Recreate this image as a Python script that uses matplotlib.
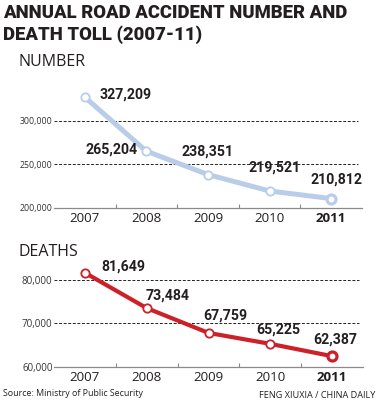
import matplotlib
matplotlib.use("Agg")
import matplotlib.pyplot as plt

years = ["2007", "2008", "2009", "2010", "2011"]
accidents = [327209, 265204, 238351, 219521, 210812]
deaths = [81649, 73484, 67759, 65225, 62387]
acc_ticks = [200000, 250000, 300000]
death_ticks = [60000, 70000, 80000]

W, H = 379, 408
fig = plt.figure(figsize=(W / 100, H / 100), dpi=100)
DARK = "#231f20"
BLUE = "#b9cde9"
RED = "#cc2128"
FONT = "Roboto"

def px_axes(left, top, right, bottom):
    return fig.add_axes([left / W, 1 - bottom / H, (right - left) / W, (bottom - top) / H])

def fmt(v):
    return f"{v:,}"

def draw(ax, vals, ticks, ylim, color, lw, offsets):
    x = list(range(len(vals)))
    ax.set_xlim(-0.5, len(vals) - 0.5)
    ax.set_ylim(*ylim)
    ax.plot(x, vals, color=color, lw=lw, solid_capstyle="round", zorder=3)
    ax.plot(x[:-1], vals[:-1], "o", ms=6, mfc="white", mec=color, mew=1.3, zorder=4)
    ax.plot(x[-1], vals[-1], "o", ms=6.5, mfc="white", mec=color, mew=2.3, zorder=4)
    for s in ["top", "right", "left"]:
        ax.spines[s].set_visible(False)
    ax.spines["bottom"].set_color("#8a8a8a")
    ax.spines["bottom"].set_linewidth(0.9)
    ax.set_yticks(ticks)
    ax.set_yticklabels([fmt(t) for t in ticks], fontsize=6.3, color="#333333", family="Open Sans")
    ax.tick_params(axis="y", length=0, pad=1)
    for t in ticks[1:]:
        ax.axhline(t, xmin=0, xmax=0.987, color="black", lw=0.6, ls=(0, (3.5, 2)), zorder=1)
    ax.set_xticks([i + 0.5 for i in range(len(vals) - 1)], minor=True)
    ax.set_xticks(x)
    ax.set_xticklabels(years, fontsize=9.6, color=DARK, family="Open Sans")
    ax.get_xticklabels()[-1].set_fontweight("bold")
    ax.tick_params(axis="x", which="major", length=0, pad=3)
    ax.tick_params(axis="x", which="minor", direction="in", length=3, width=0.8, color="#8a8a8a")
    for i, v in enumerate(vals):
        dx, dy, ha = offsets[i]
        ax.annotate(fmt(v), (i, v), xytext=(dx, dy), textcoords="offset pixels",
                    ha=ha, va="center", fontsize=10.2, fontweight="bold", color=DARK, family=FONT)

ax1 = px_axes(54, 86, 362, 208)
draw(ax1, accidents, acc_ticks, (200000, 340000), BLUE, 3.6,
     [(15, 3, "left"), (-9, 2, "right"), (0, 23, "center"), (5, 23, "center"), (5, 19, "center")])

ax2 = px_axes(54, 262.6, 363, 366.5)
draw(ax2, deaths, death_ticks, (60000, 84000), RED, 3.0,
     [(16, 6, "left"), (-1, 13, "left"), (17, 17, "center"), (8, 14, "center"), (3, 17, "center")])
ax2.set_yticklabels([fmt(t) for t in death_ticks], fontsize=7, color="#333333", family="Open Sans")

fig.text(3 / W, 1 - 13 / H, "ANNUAL ROAD ACCIDENT NUMBER AND", fontsize=13.3, fontweight="black",
         color=DARK, family=FONT, va="center", ha="left")
fig.text(3 / W, 1 - 35 / H, "DEATH TOLL (2007-11)", fontsize=13.3, fontweight="black",
         color=DARK, family=FONT, va="center", ha="left")
fig.text(18 / W, 1 - 62 / H, "NUMBER", fontsize=11.5, color=DARK, family="Open Sans", va="center", ha="left")
fig.text(18 / W, 1 - 252 / H, "DEATHS", fontsize=11.5, color=DARK, family="Open Sans", va="center", ha="left")
fig.text(3 / W, 1 - 394 / H, "Source: Ministry of Public Security", fontsize=6.4, color=DARK,
         family="Open Sans", va="center", ha="left")
fig.text(375 / W, 1 - 395 / H, "FENG XIUXIA / CHINA DAILY", fontsize=6.6, color=DARK,
         family="Open Sans", va="center", ha="right")

fig.savefig("out.png", dpi=100)
